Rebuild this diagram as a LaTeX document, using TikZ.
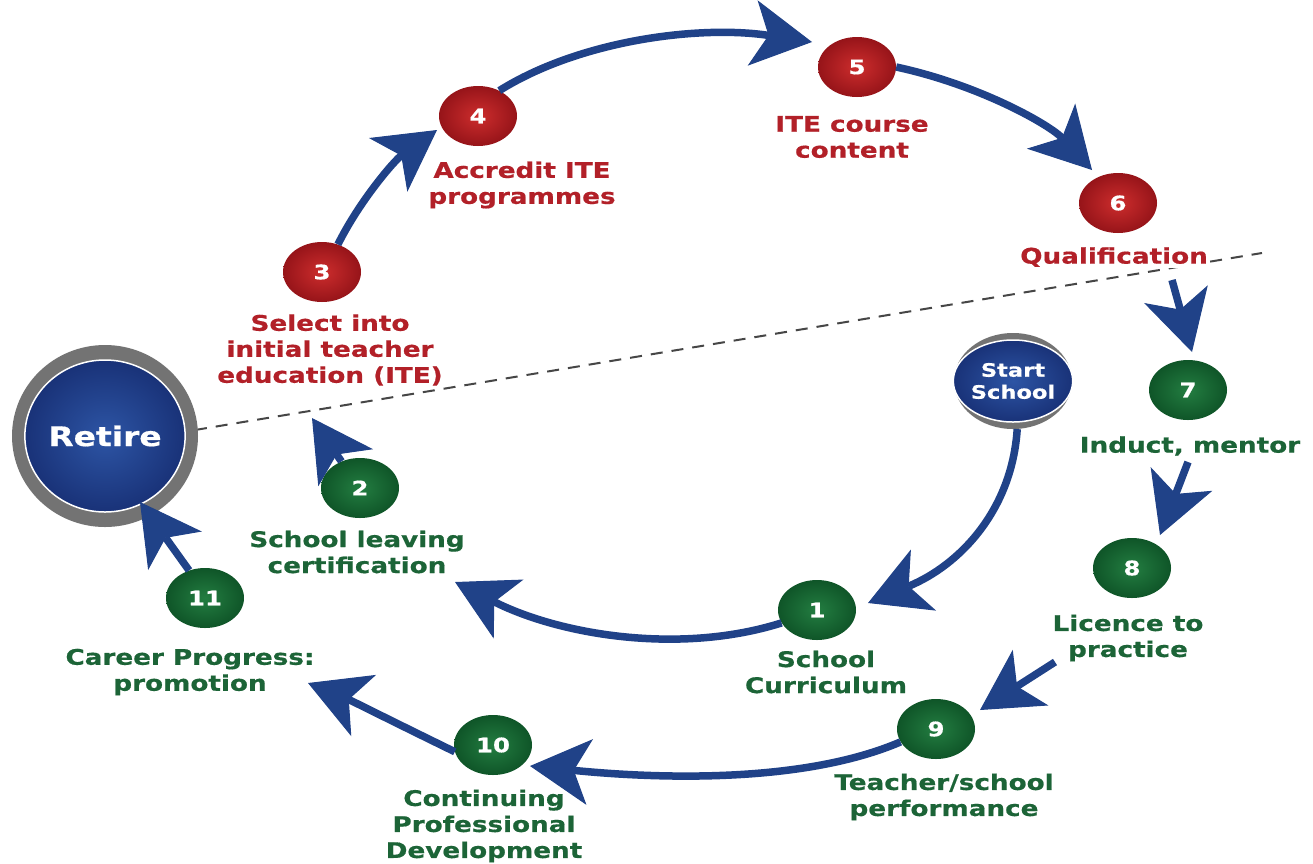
\documentclass[tikz,border=0pt]{standalone}
\usepackage{fontspec}
\usetikzlibrary{arrows.meta,shapes.geometric}
\newfontfamily\vb{DejaVu Sans Bold}[FakeStretch=1.22,FakeBold=0.6]
\definecolor{arrblue}{RGB}{32,66,136}
\definecolor{redtxt}{RGB}{178,32,40}
\definecolor{greentxt}{RGB}{28,100,55}
\definecolor{redin}{RGB}{205,45,45}
\definecolor{redout}{RGB}{150,20,25}
\definecolor{greenin}{RGB}{35,125,65}
\definecolor{greenout}{RGB}{15,85,40}
\definecolor{ringgray}{RGB}{115,115,115}
\definecolor{bluein}{RGB}{45,85,165}
\definecolor{blueout}{RGB}{25,50,120}
\definecolor{dashgray}{RGB}{70,70,70}
\tikzset{
  num/.style={ellipse, minimum width=78pt, minimum height=60pt, inner sep=0pt,
    text=white, font=\vb\fontsize{20}{22}\selectfont},
  rednum/.style={num, shading=radial, inner color=redin, outer color=redout},
  greennum/.style={num, shading=radial, inner color=greenin, outer color=greenout},
  lab/.style={align=center, inner sep=1pt, font=\vb\fontsize{21.5}{26}\selectfont},
  redlab/.style={lab, text=redtxt},
  greenlab/.style={lab, text=greentxt},
  ring/.style={ellipse, fill=ringgray, inner sep=0pt},
  core/.style={ellipse, draw=white, line width=1.5pt, shading=radial,
    inner color=bluein, outer color=blueout, text=white, align=center, inner sep=0pt},
  arr/.style={draw=arrblue, line width=7.5pt,
    -{Stealth[length=60pt,width=66pt,inset=16pt,line width=1pt]}},
  dashline/.style={draw=dashgray, line width=2pt, dash pattern=on 12pt off 9pt}
}
\begin{document}
\begin{tikzpicture}[x=1pt,y=-1pt]
\useasboundingbox (0,0) rectangle (1313,863);
\fill[white] (0,0) rectangle (1313,863);

% dashed divider
\coordinate (d1) at (195,430);
\coordinate (d2) at (1262,253);
\draw[dashline] (d1) -- (d2);

% Retire and Start School
\node[ring, minimum width=186pt, minimum height=182pt] (retring) at (105,436) {};
\node[core, minimum width=156pt, minimum height=152pt, font=\vb\fontsize{27}{29}\selectfont] (retire) at (105,436) {Retire};
\node[ring, minimum width=118pt, minimum height=96pt] (sring) at (1013,381) {};
\node[core, minimum width=102pt, minimum height=82pt, font=\vb\fontsize{18.5}{22}\selectfont] (start) at (1013,381) {Start\\School};

% numbered nodes
\node[greennum] (n1) at (817,610) {1};
\node[greennum] (n2) at (360,488) {2};
\node[rednum] (n3) at (322,272) {3};
\node[rednum] (n4) at (478,116) {4};
\node[rednum] (n5) at (857,67) {5};
\node[rednum] (n6) at (1118,203) {6};
\node[greennum] (n7) at (1188,390) {7};
\node[greennum] (n8) at (1132,568) {8};
\node[greennum] (n9) at (936,729) {9};
\node[greennum] (n10) at (493,745) {10};
\node[greennum] (n11) at (205,598) {11};

% labels
\node[greenlab] (l1) at (826,672) {School\\Curriculum};
\node[greenlab] (l2) at (357,552) {School leaving\\certification};
\node[redlab] (l3) at (330,350) {Select into\\initial teacher\\education (ITE)};
\node[redlab] (l4) at (522,185) {Accredit ITE\\programmes};
\node[redlab] (l5) at (852,137) {ITE course\\content};
\node[redlab, fill=white] (l6) at (1114,257) {Qualification};
\node[greenlab] (l7) at (1190,446) {Induct, mentor};
\node[greenlab] (l8) at (1128,638) {Licence to\\practice};
\node[greenlab] (l9) at (944,797) {Teacher/school\\performance};
\node[greenlab] (l10) at (484,826) {Continuing\\Professional\\Development};
\node[greenlab] (l11) at (190,672) {Career Progress:\\promotion};

% arrow tips / free ends
\coordinate (t1) at (868,603);
\coordinate (t2) at (455,582);
\coordinate (t3) at (312,418);
\coordinate (t4) at (437,130);
\coordinate (t5) at (812,42);
\coordinate (t6) at (1092,170);
\coordinate (s7) at (1172,280);
\coordinate (t7) at (1192,352);
\coordinate (s8) at (1188,462);
\coordinate (t8) at (1160,535);
\coordinate (s9) at (1055,662);
\coordinate (t9) at (980,710);
\coordinate (t10) at (530,766);
\coordinate (t11) at (308,683);
\coordinate (t12) at (140,502);

% arrows
\draw[arr] (sring.-85) .. controls (1012,510) and (960,565) .. (t1);
\draw[arr] (n1.200) .. controls (680,655) and (560,635) .. (t2);
\draw[arr] (n2.125) -- (t3);
\draw[arr] (n3.60) .. controls (360,200) and (395,160) .. (t4);
\draw[arr] (n4.50) .. controls (580,40) and (700,25) .. (t5);
\draw[arr] (n5.0) .. controls (980,85) and (1050,125) .. (t6);
\draw[arr] (s7) -- (t7);
\draw[arr] (s8) -- (t8);
\draw[arr] (s9) -- (t9);
\draw[arr] (n9.200) .. controls (800,785) and (650,778) .. (t10);
\draw[arr] (n10.190) .. controls (400,725) and (350,700) .. (t11);
\draw[arr] (n11.120) -- (t12);
\end{tikzpicture}
\end{document}
